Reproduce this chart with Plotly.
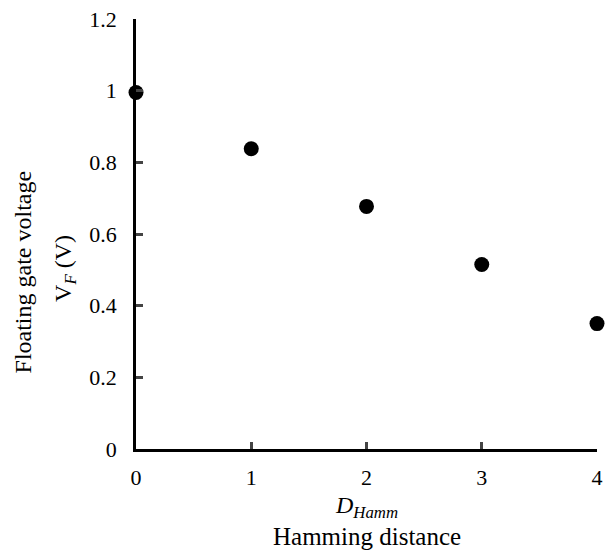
import plotly.graph_objects as go

hamming = [0, 1, 2, 3, 4]
vf = [0.995, 0.838, 0.677, 0.515, 0.350]
y_ticks = [0, 0.2, 0.4, 0.6, 0.8, 1, 1.2]
y_tick_labels = ["0", "0.2", "0.4", "0.6", "0.8", "1", "1.2"]
x_ticks = [0, 1, 2, 3, 4]

FONT = "Liberation Serif"

fig = go.Figure()
fig.add_trace(go.Scatter(
    x=hamming, y=vf, mode="markers",
    marker=dict(color="black", size=15),
    cliponaxis=False, showlegend=False,
))

L, R, T, B = 136, 6, 19, 105
W, H = 609, 554
ph = H - T - B
pw = W - L - R

fig.update_layout(
    width=W, height=H,
    margin=dict(l=L, r=R, t=T, b=B),
    paper_bgcolor="white", plot_bgcolor="white",
    font=dict(family=FONT, color="black", size=22),
    xaxis=dict(range=[0, 4], tickvals=x_ticks, ticks="inside", ticklen=7, tickwidth=2.8,
               showline=True, linewidth=2.8, linecolor="black", showgrid=False, zeroline=False,
               tickfont=dict(family=FONT, size=22), ticklabelstandoff=7),
    yaxis=dict(range=[0, 1.2], tickvals=y_ticks, ticktext=y_tick_labels, ticks="inside",
               ticklen=7, tickwidth=2.8, showline=True, linewidth=2.8, linecolor="black",
               showgrid=False, zeroline=False, tickfont=dict(family=FONT, size=22), ticklabelstandoff=12),
    annotations=[
        dict(text="<i>D<sub>Hamm</sub></i>", xref="paper", yref="paper", x=0.5,
             y=(449 - 507) / ph, showarrow=False, font=dict(family=FONT, size=24),
             xanchor="center", yanchor="middle"),
        dict(text="Hamming distance", xref="paper", yref="paper", x=0.5,
             y=(449 - 536) / ph, showarrow=False, font=dict(family=FONT, size=25),
             xanchor="center", yanchor="middle"),
        dict(text="Floating gate voltage", xref="paper", yref="paper", x=(22 - L) / pw,
             y=(449 - 272) / ph, showarrow=False, textangle=-90, font=dict(family=FONT, size=24),
             xanchor="center", yanchor="middle"),
        dict(text="V<sub><i>F</i></sub> (V)", xref="paper", yref="paper", x=(64 - L) / pw,
             y=(449 - 268) / ph, showarrow=False, textangle=-90, font=dict(family=FONT, size=24),
             xanchor="center", yanchor="middle"),
    ],
)

fig.write_html("out.html")
